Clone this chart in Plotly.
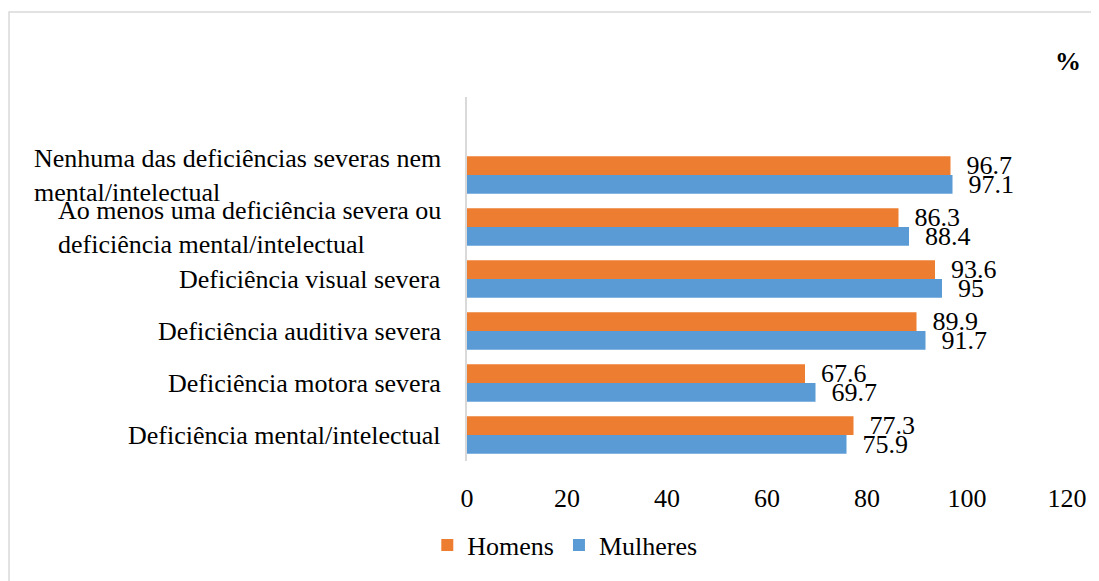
import plotly.graph_objects as go

categories = [
    "Deficiência mental/intelectual",
    "Deficiência motora severa",
    "Deficiência auditiva severa",
    "Deficiência visual severa",
    "Ao menos uma deficiência severa ou<br>deficiência mental/intelectual",
    "Nenhuma das deficiências severas nem<br>mental/intelectual",
]
homens = [77.3, 67.6, 89.9, 93.6, 86.3, 96.7]
mulheres = [75.9, 69.7, 91.7, 95, 88.4, 97.1]
x_ticks = [0, 20, 40, 60, 80, 100, 120]

FONT = "Liberation Serif, Times New Roman, serif"
ORANGE = "#ED7D31"
BLUE = "#5B9BD5"

fig = go.Figure()
fig.add_trace(go.Bar(
    y=categories, x=mulheres, orientation="h", name="Mulheres",
    marker=dict(color=BLUE, line=dict(width=0)),
    texttemplate="\u00a0\u00a0%{x}", textposition="outside", constraintext="none",
    cliponaxis=False, textfont=dict(family=FONT, size=26, color="#000000"),
    legendrank=2,
))
fig.add_trace(go.Bar(
    y=categories, x=homens, orientation="h", name="Homens",
    marker=dict(color=ORANGE, line=dict(width=0)),
    texttemplate="\u00a0\u00a0%{x}", textposition="outside", constraintext="none",
    cliponaxis=False, textfont=dict(family=FONT, size=26, color="#000000"),
    legendrank=1,
))

annotations = []
for c in categories:
    annotations.append(dict(
        x=-0.04, xref="paper", y=c, yref="y", text=c, showarrow=False,
        xanchor="right", yanchor="middle", align="left",
        font=dict(family=FONT, size=26, color="#000000"),
    ))
annotations.append(dict(
    x=1.002, xref="paper", y=1.098, yref="paper", text="<b>%</b>",
    showarrow=False, xanchor="center", yanchor="middle",
    font=dict(family=FONT, size=26, color="#000000"),
))

fig.update_layout(
    width=1091, height=573,
    margin=dict(l=459, r=32, t=89, b=116),
    paper_bgcolor="white", plot_bgcolor="white",
    barmode="group", bargap=0.278, bargroupgap=0,
    font=dict(family=FONT, size=26, color="#000000"),
    showlegend=True,
    legend=dict(orientation="h", x=0.163, xanchor="center", y=-0.231,
                yanchor="middle", font=dict(family=FONT, size=26),
                itemclick=False, bgcolor="rgba(0,0,0,0)"),
    annotations=annotations,
    shapes=[dict(type="rect", xref="paper", yref="paper",
                 x0=-0.7633, x1=1.07, y0=-0.35, y1=1.2337,
                 line=dict(color="#d9d9d9", width=1.5), layer="below")],
    xaxis=dict(range=[0, 120], tickvals=x_ticks, ticktext=[str(v) for v in x_ticks],
               showgrid=False, zeroline=False, showline=False,
               ticks="outside", ticklen=14, tickcolor="rgba(0,0,0,0)",
               tickfont=dict(family=FONT, size=26, color="#000000"), fixedrange=True),
    yaxis=dict(type="category", categoryorder="array", categoryarray=categories,
               range=[-0.5, 6.5], showticklabels=False, showgrid=False,
               zeroline=False, showline=True, linecolor="#d9d9d9", linewidth=2,
               ticks="", fixedrange=True),
)

fig.write_html("out.html")
